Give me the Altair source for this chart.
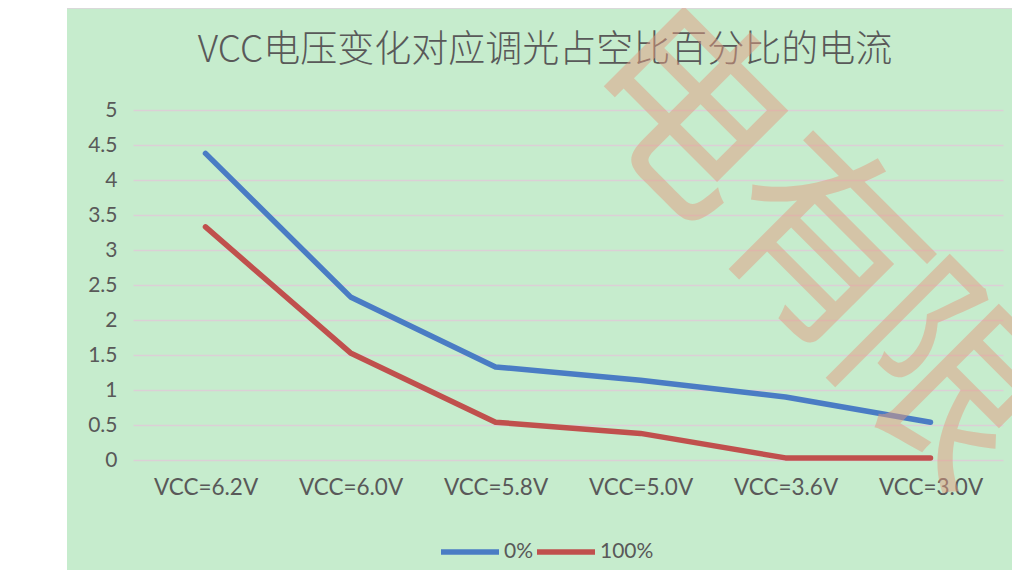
import altair as alt
import pandas as pd

categories = ["VCC=6.2V", "VCC=6.0V", "VCC=5.8V", "VCC=5.0V", "VCC=3.6V", "VCC=3.0V"]
series_names = ["0%", "100%"]
values_0 = [4.38, 2.33, 1.33, 1.14, 0.90, 0.54]
values_100 = [3.33, 1.53, 0.54, 0.38, 0.03, 0.03]
y_ticks = [0, 0.5, 1, 1.5, 2, 2.5, 3, 3.5, 4, 4.5, 5]
title_text = "VCC电压变化对应调光占空比百分比的电流"
watermark_chars = ["电", "有", "限"]

rows = []
for c, v in zip(categories, values_0):
    rows.append({"cat": c, "series": series_names[0], "value": v})
for c, v in zip(categories, values_100):
    rows.append({"cat": c, "series": series_names[1], "value": v})
df = pd.DataFrame(rows)
one = pd.DataFrame({"k": [0]})

TXT = "#595959"
FONT = "Lato"

# white strip to the left of the green panel
white_left = alt.Chart(one).mark_rect(color="white").encode(
    x=alt.value(-125), x2=alt.value(-66), y=alt.value(-102), y2=alt.value(480)
)
top_border = alt.Chart(one).mark_rect(color="#D9D9D9").encode(
    x=alt.value(-66), x2=alt.value(900), y=alt.value(-102), y2=alt.value(-101)
)

lines = alt.Chart(df).mark_line(strokeWidth=5.5, strokeCap="round", strokeJoin="round").encode(
    x=alt.X("cat:N", sort=categories, scale=alt.Scale(type="point", padding=0.5),
            axis=alt.Axis(title=None, labelAngle=0, domain=False, ticks=False, grid=False,
                          labelPadding=16, labelFontSize=22.5, labelColor=TXT, labelFont=FONT)),
    y=alt.Y("value:Q", scale=alt.Scale(domain=[0, 5], nice=False),
            axis=alt.Axis(title=None, values=y_ticks, format="~g", domain=False, ticks=False,
                          labelPadding=16, labelFontSize=21, labelColor=TXT, labelFont=FONT,
                          grid=True, gridColor="#DCCFD6", gridWidth=1.3)),
    color=alt.Color("series:N", scale=alt.Scale(domain=series_names, range=["#4A7CC4", "#C0504D"]),
                    legend=alt.Legend(title=None, orient="none", legendX=305, legendY=410,
                                      direction="horizontal", symbolType="stroke", symbolSize=3364,
                                      symbolStrokeWidth=5.5, labelFontSize=21, labelColor=TXT,
                                      labelFont=FONT, columnPadding=-10, labelOffset=2)),
)

title = alt.Chart(one).mark_text(text=title_text, fontSize=37, font="Noto Sans CJK SC",
                                 fontWeight=300, color=TXT, align="center", baseline="middle").encode(
    x=alt.value(412), y=alt.value(-59)
)

wm_pos = [(548, 5), (684, 140), (804, 272)]
wms = []
for ch, (px, py) in zip(watermark_chars, wm_pos):
    wms.append(alt.Chart(one).mark_text(text=ch, fontSize=200, font="Noto Sans CJK SC", angle=45,
                                        color="#E29D82", opacity=0.5, align="center",
                                        baseline="middle").encode(x=alt.value(px), y=alt.value(py)))

chart = alt.layer(white_left, top_border, lines, title, *wms).properties(
    width=870, height=350,
    autosize=alt.AutoSizeParams(type="none"),
    padding={"left": 125, "top": 102, "right": 9, "bottom": 110},
    background="#C6ECCD",
).configure_view(stroke=None)

chart.save("out.html", embed_options={"renderer": "svg", "actions": False})
